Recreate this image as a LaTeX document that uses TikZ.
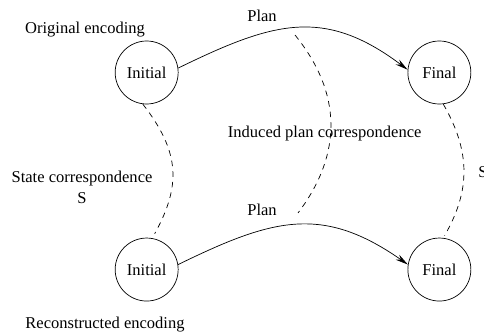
\documentclass[tikz,border=0pt]{standalone}
\usepackage{fontspec}
\setmainfont{Liberation Serif}
\usepackage{tikz}
\usetikzlibrary{arrows.meta,positioning}

\begin{document}
\begin{tikzpicture}[line width=0.6pt, font=\fontsize{14.1}{17.5}\selectfont,
    state/.style={circle, draw, minimum size=1.89cm, inner sep=0pt},
    plan/.style={-{Stealth[length=0.38cm, width=0.18cm]}},
    corr/.style={dash pattern=on 0.17cm off 0.15cm},
    lbl/.style={inner sep=0pt, align=center}]

    \useasboundingbox (0,0) rectangle (14.52,-10.05);

    % States
    \node[state] (init1) at (4.40,-2.175) {Initial};
    \node[state, right=6.87cm of init1] (final1) {Final};
    \node[state, below=4.0cm of init1] (init2) {Initial};
    \node[state, right=6.87cm of init2] (final2) {Final};

    % Plans
    \draw[plan] (init1.8) to[out=26, in=143, looseness=1.17] (final1.175);
    \draw[plan] (init2.9) to[out=26, in=145, looseness=1.17] (final2.171);

    % State correspondences
    \draw[corr, shorten >=0.15cm] (init1.-97) to[out=-52, in=61, looseness=1.15] (init2.80);
    \draw[corr, shorten >=0.08cm] (final1.-83) to[out=-60, in=60, looseness=1.05] (final2.83);

    % Induced plan correspondence
    \coordinate (ipc1) at (8.85,-1.05);
    \coordinate (ipc2) at (8.94,-6.39);
    \draw[corr] (ipc1) to[out=-51, in=53, looseness=1.07] (ipc2);

    % Labels
    \node[lbl] (orig) at (2.55,-0.90) {Original encoding};
    \node[lbl] (plan1) at (7.86,-0.48) {Plan};
    \node[lbl] (plan2) at (7.86,-6.30) {Plan};
    \node[lbl] (induced) at (9.74,-4.02) {Induced plan correspondence};
    \node[lbl] (statecorr) at (2.46,-5.62) {State correspondence\\S};
    \node[lbl, anchor=west] (scorr) at (14.34,-5.15) {S};
    \node[lbl] (recon) at (3.15,-9.75) {Reconstructed encoding};

\end{tikzpicture}
\end{document}
